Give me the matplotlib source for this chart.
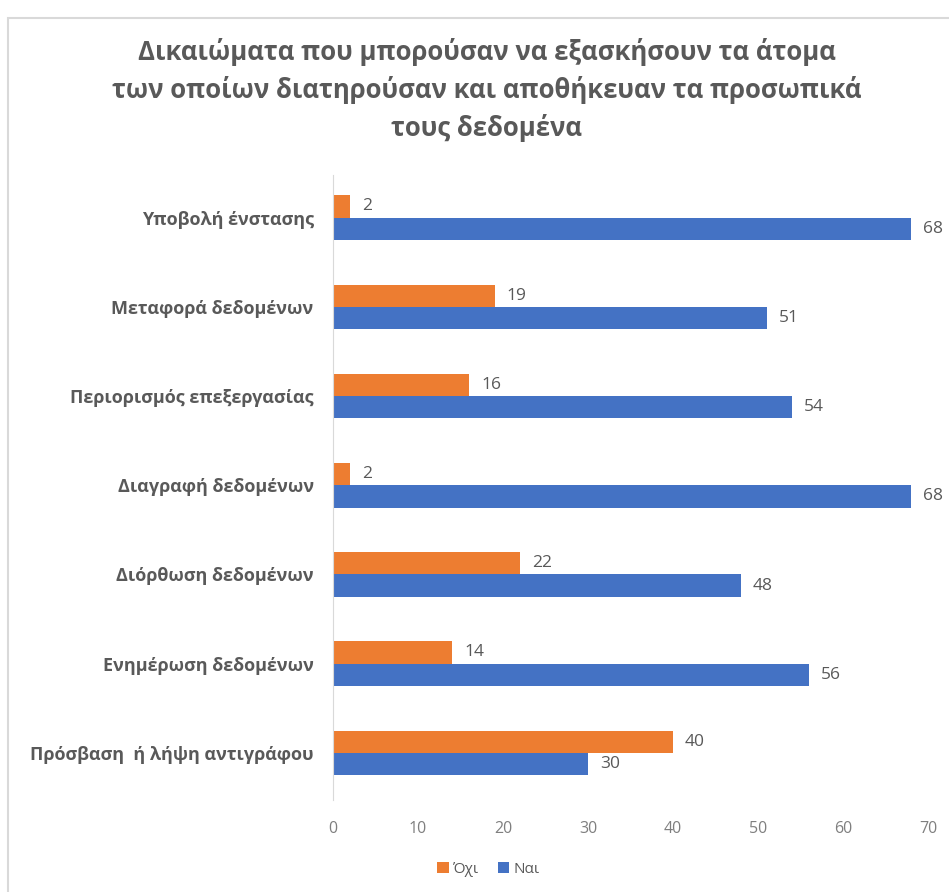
import matplotlib
matplotlib.use("Agg")
import matplotlib.pyplot as plt
from matplotlib.patches import Rectangle
import numpy as np

plt.rcParams["font.family"] = ["Open Sans", "DejaVu Sans"]

# categories listed bottom to top
categories = [
    "Πρόσβαση  ή λήψη αντιγράφου",
    "Ενημέρωση δεδομένων",
    "Διόρθωση δεδομένων",
    "Διαγραφή δεδομένων",
    "Περιορισμός επεξεργασίας",
    "Μεταφορά δεδομένων",
    "Υποβολή ένστασης",
]
ochi = [40, 14, 22, 2, 16, 19, 2]
nai = [30, 56, 48, 68, 54, 51, 68]
xticks = [0, 10, 20, 30, 40, 50, 60, 70]

title = ("Δικαιώματα που μπορούσαν να εξασκήσουν τα άτομα\n"
         "των οποίων διατηρούσαν και αποθήκευαν τα προσωπικά\n"
         "τους δεδομένα")

ORANGE = "#ED7D31"
BLUE = "#4472C4"
GRAY = "#595959"

fig = plt.figure(figsize=(9.49, 8.92), dpi=100)
fig.patch.set_facecolor("white")

# light chart-area frame
fig.patches.append(Rectangle((0.008, -0.05), 1.1, 1.03, transform=fig.transFigure,
                             fill=False, edgecolor="#d9d9d9", linewidth=1.5))

ax = fig.add_axes([0.351, 0.103, 0.627, 0.701])

y = np.arange(len(categories))
h = 0.25
ax.barh(y + h / 2, ochi, height=h, color=ORANGE, label="Όχι")
ax.barh(y - h / 2, nai, height=h, color=BLUE, label="Ναι")

for yi, v in zip(y, ochi):
    ax.text(v + 1.4, yi + h / 2, str(v), va="center", ha="left",
            fontsize=12.5, color=GRAY)
for yi, v in zip(y, nai):
    ax.text(v + 1.4, yi - h / 2, str(v), va="center", ha="left",
            fontsize=12.5, color=GRAY)

ax.set_xlim(0, 70)
ax.set_ylim(-0.53, 6.48)
ax.set_xticks(xticks)
ax.set_yticks(y)
ax.set_yticklabels(categories, fontsize=13, fontweight="bold", color=GRAY)
ax.tick_params(axis="x", length=0, pad=15, labelsize=11.5, labelcolor="#7f7f7f")
ax.tick_params(axis="y", length=0, pad=14)

for side in ["top", "right", "bottom"]:
    ax.spines[side].set_visible(False)
ax.spines["left"].set_color("#d9d9d9")

fig.text(0.513, 0.899, title, ha="center", va="center", fontsize=18.5,
         fontweight="bold", color=GRAY, linespacing=1.45)

leg = fig.legend(loc="center", bbox_to_anchor=(0.515, 0.025), ncol=2,
                 frameon=False, fontsize=11, handlelength=0.75, handleheight=0.75,
                 handletextpad=0.3, columnspacing=1.2, labelcolor=GRAY)

fig.savefig("out.png", dpi=100)
